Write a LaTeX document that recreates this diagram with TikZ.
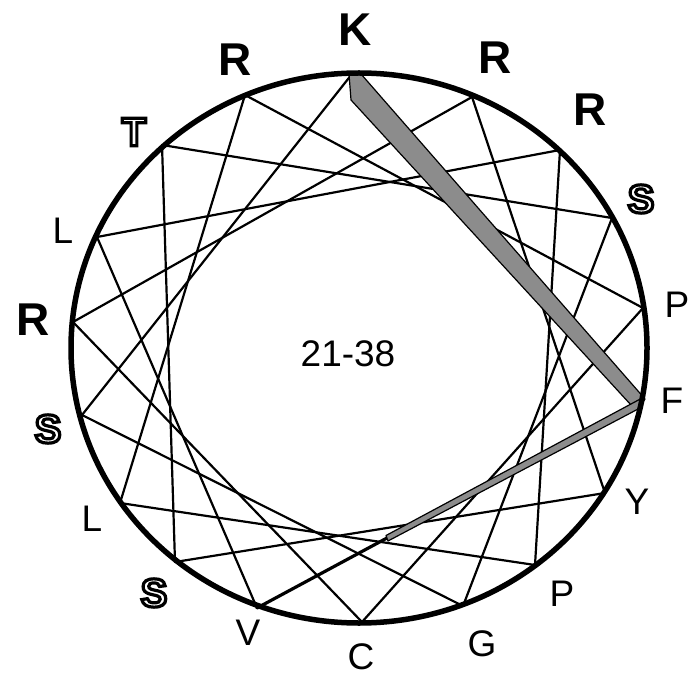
\documentclass[tikz,border=0pt]{standalone}
\usepackage{fontspec}
\setmainfont{Liberation Sans}
\newfontface\outfont{Liberation Sans Bold}[FakeBold=8]
\newcommand\outl[1]{\special{pdf:bcolor [1] [0]}{\outfont #1}\special{pdf:ecolor}}
\tikzset{
  ring/.style={line width=5.5pt},
  chord/.style={line width=2.2pt, line cap=round},
  tailline/.style={line width=3.2pt, line cap=round},
  band/.style={fill=black!45, draw=black, line width=1.2pt, line join=round},
  boldlab/.style={font=\fontsize{46}{50}\selectfont\bfseries, inner sep=0pt},
  plainlab/.style={font=\fontsize{37}{40}\selectfont, inner sep=0pt},
  outlab/.style={font=\fontsize{40}{44}\selectfont, inner sep=0pt},
}
\begin{document}
\begin{tikzpicture}[x=1pt,y=-1pt]
\fill[white] (0,0) rectangle (695,684);
\useasboundingbox (0,0) rectangle (695,684);
% residue points on the wheel
\coordinate (K)  at (352,74);
\coordinate (Ra) at (472,97);
\coordinate (Rb) at (560,150);
\coordinate (Sa) at (612,218);
\coordinate (Pa) at (643,308);
\coordinate (F)  at (641,402);
\coordinate (Y)  at (605,493);
\coordinate (Pb) at (535,565);
\coordinate (G)  at (463,606);
\coordinate (C)  at (362,622);
\coordinate (V)  at (257,608);
\coordinate (Sb) at (175,562);
\coordinate (Lb) at (120,503);
\coordinate (Sc) at (82,415);
\coordinate (Rc) at (73,322);
\coordinate (La) at (97,237);
\coordinate (T)  at (162,145);
\coordinate (Rd) at (245,95);
\coordinate (tail) at (387,538);
% connectors
\foreach \a/\b in {V/La, La/Rb, Rb/Pb, Pb/Lb, Lb/Rd, Rd/Pa, Pa/C, C/Rc, Rc/Ra,
                   Ra/Y, Y/Sb, Sb/T, T/Sa, Sa/G, G/Sc, Sc/K}
  \draw[chord] (\a) -- (\b);
\draw[tailline] (tail) -- (V);
% shaded bands
\draw[band] (349,74) -- (361,74) -- (645,399) -- (641,405) -- (631,405) -- (351,100) -- cycle;
\draw[band] (644,397) -- (640,408) -- (388,541) -- (386,535.5) -- cycle;
% wheel
\draw[ring] (359,348) ellipse [x radius=288pt, y radius=275pt];
% labels
\node[boldlab] (lK)  at (355,30)  {K};
\node[boldlab] (lRa) at (495,58)  {R};
\node[boldlab] (lRb) at (590,110) {R};
\node[boldlab] (lRc) at (33,320)  {R};
\node[boldlab] (lRd) at (235,60)  {R};
\node[outlab]  (lSa) at (641,199) {\outl{S}};
\node[outlab]  (lSb) at (154,593) {\outl{S}};
\node[outlab]  (lSc) at (48,429)  {\outl{S}};
\node[outlab]  (lT)  at (134,132) {\outl{T}};
\node[plainlab] (lPa) at (677,305) {P};
\node[plainlab] (lF)  at (672,401) {F};
\node[plainlab] (lY)  at (637,502) {Y};
\node[plainlab] (lPb) at (562,594) {P};
\node[plainlab] (lG)  at (482,644) {G};
\node[plainlab] (lC)  at (361,657) {C};
\node[plainlab] (lV)  at (248,633) {V};
\node[plainlab] (lLb) at (92,519)  {L};
\node[plainlab] (lLa) at (63,231)  {L};
\node[plainlab] (lmid) at (348,354) {21-38};
\end{tikzpicture}
\end{document}
